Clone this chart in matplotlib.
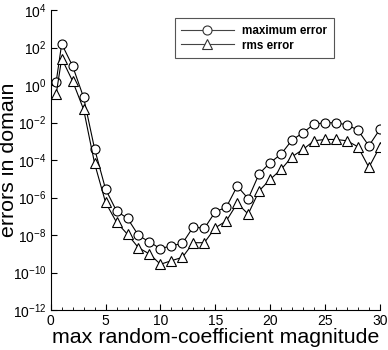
import matplotlib
matplotlib.use("Agg")
import matplotlib.pyplot as plt
import numpy as np
from matplotlib.ticker import FixedLocator, MultipleLocator, LogFormatterMathtext, NullLocator

plt.rcParams['font.family'] = ['Liberation Sans', 'DejaVu Sans']
plt.rcParams['mathtext.fontset'] = 'custom'
plt.rcParams['mathtext.rm'] = 'Liberation Sans'
plt.rcParams['mathtext.it'] = 'Liberation Sans'

x = [0.5] + list(range(1, 31))
log_max = [0.18, 2.2, 1.01, -0.66, -3.4, -5.55, -6.72, -7.11, -8.02, -8.37, -8.73,
           -8.57, -8.45, -7.56, -7.65, -6.76, -6.52, -5.39, -6.06, -4.73, -4.14,
           -3.68, -2.93, -2.54, -2.08, -2.01, -2.01, -2.12, -2.4, -3.24, -2.36]
log_rms = [-0.48, 1.42, 0.21, -1.30, -4.18, -6.26, -7.32, -7.96, -8.68, -9.01, -9.56,
           -9.37, -9.19, -8.41, -8.41, -7.61, -7.25, -6.31, -6.88, -5.64, -5.03,
           -4.5, -3.82, -3.43, -2.97, -2.9, -2.9, -2.97, -3.29, -4.39, -3.29]
max_err = [10 ** v for v in log_max]
rms_err = [10 ** v for v in log_rms]

fig = plt.figure(figsize=(3.88, 3.5), dpi=100)
ax = fig.add_axes([0.1307, 0.1143, 0.979 - 0.1307, 0.971 - 0.1143])

ax.plot(x, max_err, color='black', lw=0.8, marker='o', ms=6.5, mfc='white',
        mec='black', mew=0.8, label='maximum error')
ax.plot(x, rms_err, color='black', lw=0.8, marker='^', ms=6.5, mfc='white',
        mec='black', mew=0.8, label='rms error')

ax.set_yscale('log')
ax.set_xlim(0, 30)
ax.set_ylim(1e-12, 1e4)
ax.yaxis.set_major_locator(FixedLocator([10.0 ** k for k in range(-12, 5, 2)]))
ax.yaxis.set_major_formatter(LogFormatterMathtext())
ax.yaxis.set_minor_locator(NullLocator())
ax.xaxis.set_major_locator(MultipleLocator(5))
ax.xaxis.set_minor_locator(MultipleLocator(1))

for s in ['top', 'right']:
    ax.spines[s].set_visible(False)
for s in ['left', 'bottom']:
    ax.spines[s].set_linewidth(0.8)

ax.tick_params(which='major', direction='in', length=4, width=0.8, labelsize=10, pad=3)
ax.tick_params(which='minor', direction='in', length=2, width=0.6)

ax.set_xlabel('max random-coefficient magnitude', fontsize=15.4, labelpad=0)
ax.set_ylabel('errors in domain', fontsize=15.4)
ax.yaxis.set_label_coords(-0.098, 0.5)

leg = ax.legend(loc='upper right', bbox_to_anchor=(0.860, 0.973), borderaxespad=0,
                frameon=True, fancybox=False, edgecolor='#555555', framealpha=1,
                prop={'weight': 'bold', 'size': 8.4}, handlelength=4.5,
                borderpad=0.55, labelspacing=0.25, handletextpad=0.75)
leg.get_frame().set_linewidth(0.8)
for h in leg.get_lines():
    h.set_color('#444444')
    h.set_markeredgecolor('#333333')

fig.savefig('out.png', dpi=100)
